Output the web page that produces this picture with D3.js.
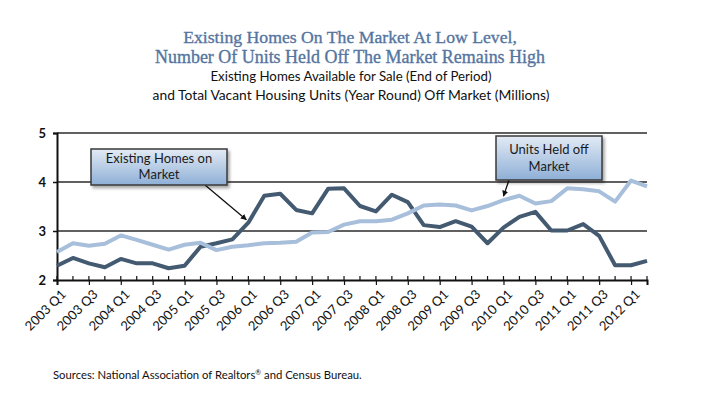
<!DOCTYPE html>
<html>
<head>
<meta charset="utf-8">
<script src="https://cdn.jsdelivr.net/npm/d3@7"></script>
<style>
  html, body { margin: 0; padding: 0; background: #ffffff; }
  svg { display: block; }
</style>
</head>
<body>
<script>
// ---------------- DATA ----------------
const quarters = [
  "2003 Q1","2003 Q2","2003 Q3","2003 Q4",
  "2004 Q1","2004 Q2","2004 Q3","2004 Q4",
  "2005 Q1","2005 Q2","2005 Q3","2005 Q4",
  "2006 Q1","2006 Q2","2006 Q3","2006 Q4",
  "2007 Q1","2007 Q2","2007 Q3","2007 Q4",
  "2008 Q1","2008 Q2","2008 Q3","2008 Q4",
  "2009 Q1","2009 Q2","2009 Q3","2009 Q4",
  "2010 Q1","2010 Q2","2010 Q3","2010 Q4",
  "2011 Q1","2011 Q2","2011 Q3","2011 Q4",
  "2012 Q1","2012 Q2"
];
const tickLabels = [
  "2003 Q1","2003 Q3","2004 Q1","2004 Q3","2005 Q1","2005 Q3",
  "2006 Q1","2006 Q3","2007 Q1","2007 Q3","2008 Q1","2008 Q3",
  "2009 Q1","2009 Q3","2010 Q1","2010 Q3","2011 Q1","2011 Q3","2012 Q1"
];
const existingHomes = [
  2.29,2.45,2.34,2.26,2.43,2.34,2.34,2.24,2.29,2.68,
  2.75,2.83,3.17,3.72,3.76,3.43,3.36,3.86,3.87,3.51,
  3.40,3.74,3.59,3.12,3.08,3.20,3.09,2.75,3.07,3.29,
  3.39,3.01,3.01,3.14,2.90,2.30,2.30,2.39
];
const unitsHeldOff = [
  2.57,2.75,2.70,2.74,2.91,2.82,2.72,2.62,2.72,2.76,
  2.61,2.68,2.71,2.75,2.76,2.78,2.97,2.98,3.13,3.20,
  3.20,3.23,3.36,3.52,3.54,3.52,3.42,3.51,3.63,3.72,
  3.56,3.61,3.87,3.85,3.81,3.60,4.03,3.91
];
const yTicks = [2, 3, 4, 5];
const titleLines = [
  "Existing Homes On The Market At Low Level,",
  "Number Of Units Held Off The Market Remains High"
];
const subtitleLines = [
  "Existing Homes Available for Sale (End of Period)",
  "and Total Vacant Housing Units (Year Round) Off Market (Millions)"
];
const callouts = [
  { lines: ["Existing Homes on", "Market"], series: "existing", index: 12 },
  { lines: ["Units Held off", "Market"], series: "held", index: 28 }
];

// ---------------- LAYOUT ----------------
const W = 702, H = 407;
const svg = d3.select("body").append("svg").attr("width", W).attr("height", H);

const defs = svg.append("defs");
const grad = defs.append("linearGradient").attr("id", "boxGrad")
  .attr("x1", 0).attr("y1", 0).attr("x2", 0).attr("y2", 1);
grad.append("stop").attr("offset", "0%").attr("stop-color", "#e3ebf5");
grad.append("stop").attr("offset", "100%").attr("stop-color", "#8eafd6");
const shadow = defs.append("filter").attr("id", "shadow")
  .attr("x", "-10%").attr("y", "-10%").attr("width", "130%").attr("height", "140%");
shadow.append("feDropShadow").attr("dx", 2).attr("dy", 2.5)
  .attr("stdDeviation", 1.5).attr("flood-color", "#000").attr("flood-opacity", 0.35);
const marker = defs.append("marker").attr("id", "arrow")
  .attr("viewBox", "0 0 10 10").attr("refX", 9).attr("refY", 5)
  .attr("markerWidth", 6).attr("markerHeight", 6).attr("orient", "auto")
  .attr("markerUnits", "userSpaceOnUse");
marker.append("path").attr("d", "M0,0 L10,5 L0,10 z").attr("fill", "#111");

const plot = { left: 57, right: 647, top: 133, bottom: 280 };
const x = d3.scalePoint().domain(quarters).range([plot.left, plot.right]);
const y = d3.scaleLinear().domain([2, 5]).range([plot.bottom, plot.top]);

function fitText(sel, targetWidth) {
  const node = sel.node();
  const w = node.getComputedTextLength();
  const fs = parseFloat(sel.attr("font-size"));
  sel.attr("font-size", (fs * targetWidth / w).toFixed(2));
}

// ---------------- TITLES ----------------
const titleFont = "'Liberation Serif', 'DejaVu Serif', serif";
const bodyFont = "Lato, 'Open Sans', 'Liberation Sans', sans-serif";
const titleY = [43, 62.5];
const titleW = [334, 390];
titleLines.forEach((t, i) => {
  const s = svg.append("text").attr("x", 350).attr("y", titleY[i])
    .attr("text-anchor", "middle").attr("font-family", titleFont)
    .attr("font-size", 18).attr("fill", "#54759f")
    .attr("stroke", "#54759f").attr("stroke-width", 0.35).text(t);
  fitText(s, titleW[i]);
});
const subY = [81, 100];
const subW = [281, 397];
subtitleLines.forEach((t, i) => {
  const s = svg.append("text").attr("x", 351).attr("y", subY[i])
    .attr("text-anchor", "middle").attr("font-family", bodyFont)
    .attr("font-size", 14).attr("fill", "#111").text(t);
  fitText(s, subW[i]);
});

// ---------------- GRID & AXES ----------------
const g = svg.append("g");
g.selectAll("line.grid").data(yTicks.filter(d => d > 2)).join("line")
  .attr("class", "grid")
  .attr("x1", plot.left).attr("x2", plot.right)
  .attr("y1", d => y(d)).attr("y2", d => y(d))
  .attr("stroke", "#2b2b2b").attr("stroke-width", 1.5);

const yAxis = d3.axisLeft(y).tickValues(yTicks).tickFormat(d3.format("d")).tickSize(4).tickPadding(7);
const yG = svg.append("g").attr("transform", `translate(${plot.left},0)`).call(yAxis);
yG.select(".domain").attr("stroke", "#111").attr("stroke-width", 2);
yG.selectAll(".tick line").attr("stroke", "#111").attr("stroke-width", 1.5);
yG.selectAll(".tick text").attr("font-family", bodyFont).attr("font-size", 13)
  .attr("font-weight", "bold").attr("fill", "#111");

// bottom axis: minor ticks every quarter pointing up, major ticks at labels pointing down
const xAxis = d3.axisBottom(x).tickValues(tickLabels).tickSize(5).tickPadding(3);
const xG = svg.append("g").attr("transform", `translate(0,${plot.bottom})`).call(xAxis);
xG.select(".domain").attr("stroke", "#111").attr("stroke-width", 2);
xG.selectAll(".tick line").attr("stroke", "#111").attr("stroke-width", 1.2);
xG.selectAll(".tick text")
  .attr("font-family", bodyFont).attr("font-size", 13).attr("fill", "#111")
  .attr("text-anchor", "end")
  .attr("transform", "translate(6,12) rotate(-45)")
  .attr("dy", "0.35em").attr("y", 0).attr("x", 0);
svg.append("g").selectAll("line.minor").data(quarters).join("line")
  .attr("x1", d => x(d)).attr("x2", d => x(d))
  .attr("y1", plot.bottom).attr("y2", plot.bottom - 4)
  .attr("stroke", "#111").attr("stroke-width", 1.2);

// ---------------- LINES ----------------
const lineGen = vals => d3.line()
  .x((d, i) => x(quarters[i]))
  .y(d => y(d))(vals);

svg.append("path").attr("d", lineGen(existingHomes))
  .attr("fill", "none").attr("stroke", "#445a70").attr("stroke-width", 4)
  .attr("stroke-linejoin", "round");
svg.append("path").attr("d", lineGen(unitsHeldOff))
  .attr("fill", "none").attr("stroke", "#a7bfdb").attr("stroke-width", 4)
  .attr("stroke-linejoin", "round");

// ---------------- CALLOUTS ----------------
const boxGeom = [
  { x: 91, y: 149, w: 136, h: 36, lineY: [162.5, 179], tail: [205, 185], tipOff: [-2, -3] },
  { x: 496, y: 136, w: 106, h: 44, lineY: [154, 171], tail: [509, 180], tipOff: [0, -4] }
];
callouts.forEach((c, k) => {
  const b = boxGeom[k];
  const vals = c.series === "existing" ? existingHomes : unitsHeldOff;
  const tipX = x(quarters[c.index]) + b.tipOff[0];
  const tipY = y(vals[c.index]) + b.tipOff[1];
  svg.append("line")
    .attr("x1", b.tail[0]).attr("y1", b.tail[1])
    .attr("x2", tipX).attr("y2", tipY)
    .attr("stroke", "#111").attr("stroke-width", 1.3)
    .attr("marker-end", "url(#arrow)");
  svg.append("rect").attr("x", b.x).attr("y", b.y).attr("width", b.w).attr("height", b.h)
    .attr("fill", "url(#boxGrad)").attr("stroke", "#3a3a3a").attr("stroke-width", 1.5)
    .attr("filter", "url(#shadow)");
  c.lines.forEach((t, i) => {
    svg.append("text").attr("x", b.x + b.w / 2).attr("y", b.lineY[i])
      .attr("text-anchor", "middle").attr("font-family", bodyFont)
      .attr("font-size", 13).attr("fill", "#1a1a1a").text(t);
  });
});

// ---------------- SOURCE ----------------
const src = svg.append("text").attr("x", 53).attr("y", 379)
  .attr("font-family", bodyFont).attr("font-size", 11).attr("fill", "#111");
src.append("tspan").text("Sources: National Association of Realtors");
src.append("tspan").attr("font-size", 7).attr("dy", -4).text("®");
src.append("tspan").attr("dy", 4).text(" and Census Bureau.");
fitText(src, 309);
</script>
</body>
</html>
